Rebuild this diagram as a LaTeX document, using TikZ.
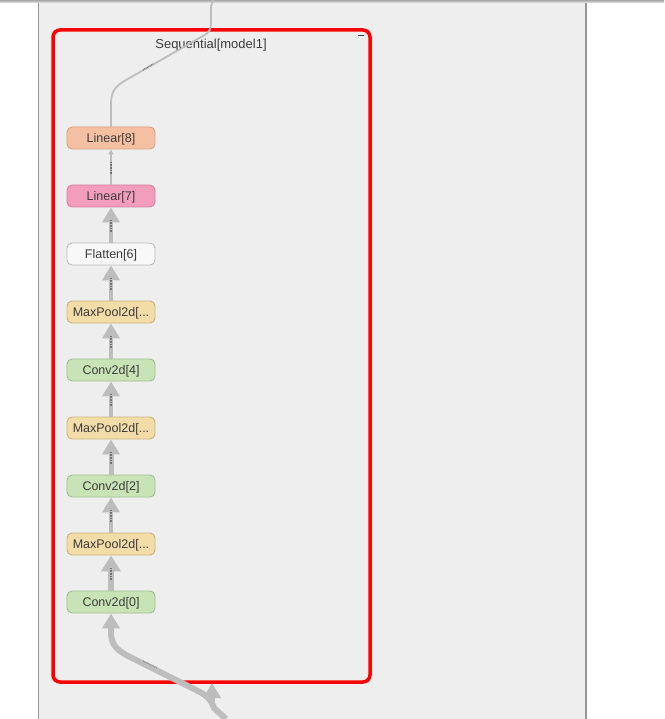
\documentclass[tikz,border=0pt]{standalone}
\usepackage{fontspec}
\setmainfont{Liberation Sans}
\usetikzlibrary{arrows.meta,calc}
\definecolor{panel}{HTML}{EEEEEE}
\definecolor{edgegray}{HTML}{BDBDBD}
\definecolor{txt}{HTML}{3C3C3C}
\definecolor{linAfill}{HTML}{F5C0A2}\definecolor{linAdraw}{HTML}{D9A283}
\definecolor{linBfill}{HTML}{F29DBC}\definecolor{linBdraw}{HTML}{D6809F}
\definecolor{flatfill}{HTML}{F8F8F8}\definecolor{flatdraw}{HTML}{BBBBBB}
\definecolor{poolfill}{HTML}{F2DCA8}\definecolor{pooldraw}{HTML}{CDB27C}
\definecolor{convfill}{HTML}{C8E4B6}\definecolor{convdraw}{HTML}{9EC08B}
\tikzset{
  opnode/.style={rounded corners=5pt, minimum width=88pt, minimum height=22pt, inner sep=0pt,
    text height=9pt, text depth=0.8pt,
    font=\fontsize{12.5}{12.5}\selectfont, text=txt, line width=0.9pt},
  linA/.style={opnode, fill=linAfill, draw=linAdraw},
  linB/.style={opnode, fill=linBfill, draw=linBdraw},
  flat/.style={opnode, fill=flatfill, draw=flatdraw},
  pool/.style={opnode, fill=poolfill, draw=pooldraw},
  conv/.style={opnode, fill=convfill, draw=convdraw},
  edge/.style={draw=edgegray, line width=#1, -{Triangle[width=17pt,length=15pt]}},
  thinedge/.style={draw=edgegray, line width=1.5pt, -{Triangle[width=5pt,length=5pt]}},
  elabel/.style={draw=black!55, line width=1.3pt, dash pattern=on 0.8pt off 0.8pt},
}
\begin{document}
\begin{tikzpicture}[x=1pt,y=-1pt]
\useasboundingbox (0,0) rectangle (664,719);
\fill[white] (0,0) rectangle (664,719);
\fill[panel] (38,0) rectangle (586,719);
\draw[black!40, line width=1.5pt] (38.5,0) -- (38.5,719);
\draw[black!40, line width=1.5pt] (586,0) -- (586,719);
\shade[top color=black!35, bottom color=black!8] (0,0) rectangle (664,3);

% group box
\node (grp) [draw=red, line width=3.5pt, rounded corners=7pt, minimum width=317pt, minimum height=652pt] at (211.5,356) {};
\node (title) [font=\fontsize{13}{13}\selectfont, text=txt] at (211,45) {Sequential[model1]};
\draw[txt, line width=1.3pt] (358,35.5) -- (364,35.5);

% nodes
\node (l8) [linA] at (111,138) {Linear[8]};
\node (l7) [linB] at (111,196) {Linear[7]};
\node (f6) [flat] at (111,254) {Flatten[6]};
\node (p5) [pool] at (111,312) {MaxPool2d[...};
\node (c4) [conv] at (111,370) {Conv2d[4]};
\node (p3) [pool] at (111,428) {MaxPool2d[...};
\node (c2) [conv] at (111,486) {Conv2d[2]};
\node (p1) [pool] at (111,544) {MaxPool2d[...};
\node (c0) [conv] at (111,602) {Conv2d[0]};

% edges
\draw[thinedge] (l7.north) -- (l8.south);
\draw[edge=4pt] (f6.north) -- (l7.south);
\draw[edge=4pt] (p5.north) -- (f6.south);
\draw[edge=4pt] (c4.north) -- (p5.south);
\draw[edge=4.5pt] (p3.north) -- (c4.south);
\draw[edge=5pt] (c2.north) -- (p3.south);
\draw[edge=4.5pt] (p1.north) -- (c2.south);
\draw[edge=6pt, -{Triangle[width=19pt,length=16pt]}] (c0.north) -- (p1.south);

% edge labels (tiny)
\foreach \n/\m in {l7/l8,f6/l7,p5/f6,c4/p5,p3/c4,c2/p3,p1/c2,c0/p1}{
  \draw[elabel] ($(\n.north)!0.5!(\m.south)+(0,-5)$) -- ($(\n.north)!0.5!(\m.south)+(0,7)$);
}

% output edge (top)
\coordinate (topend) at (213,0);
\draw[edgegray, line width=1.8pt] (l8.north) -- (111,105) .. controls (111,92) and (114,87) .. (126,80)
  -- (203,36) .. controls (210,32) and (211,29) .. (211,22) -- (211,10) .. controls (211,5) and (212,3) .. (topend);
\draw[black!55, line width=1.2pt, dash pattern=on 0.8pt off 0.8pt] (143,70) -- (153,64);

% input edge (bottom)
\coordinate (botend) at (226,719);
\coordinate (entry) at (212,683);
\draw[edgegray, line width=6pt, {Triangle[width=17pt,length=15pt]}-] (c0.south) -- (111,632)
  .. controls (111,642) and (114,648) .. (126,655) -- (196,690)
  .. controls (209,696) and (212,702) .. (214,708) -- (botend);
\draw[edgegray, line width=6pt, -{Triangle[width=17pt,length=15pt]}] (212,702) -- (entry);
\draw[black!45, line width=1.2pt, dash pattern=on 0.8pt off 0.8pt] (143,661) -- (157,668);
\end{tikzpicture}
\end{document}
